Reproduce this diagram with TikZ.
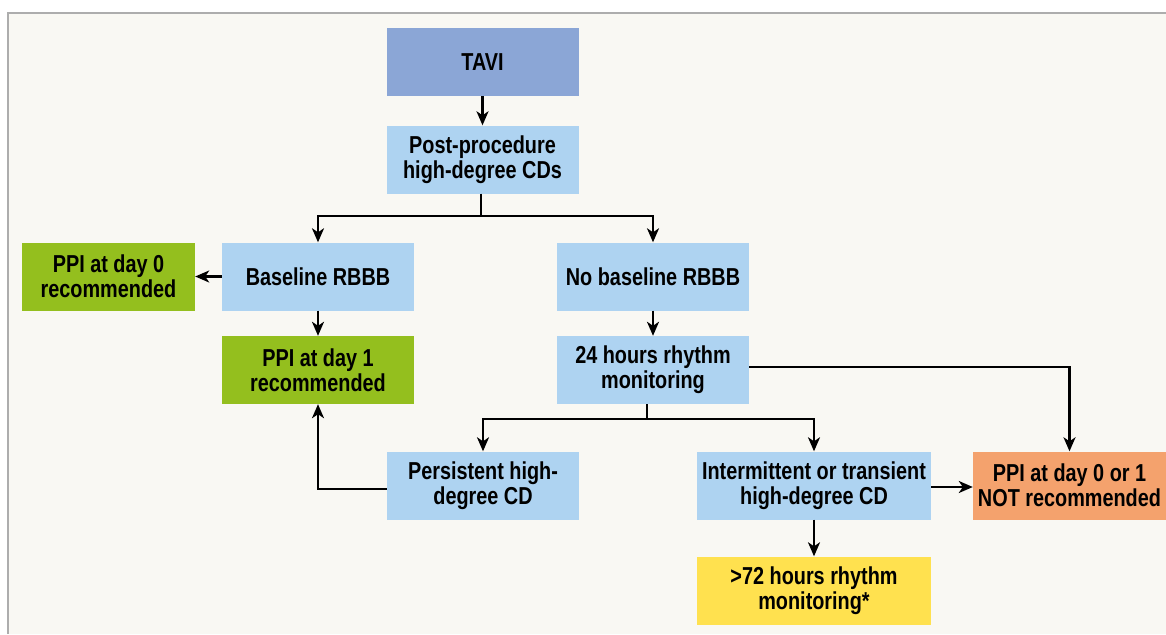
\documentclass[tikz,border=0pt]{standalone}
\usepackage{fontspec}
\setmainfont{Liberation Sans}[FakeStretch=0.81]
\usetikzlibrary{arrows.meta,calc}
\definecolor{bg}{HTML}{F9F8F3}
\definecolor{frame}{HTML}{ADADAD}
\definecolor{tavic}{HTML}{8BA6D6}
\definecolor{lblue}{HTML}{AED3F1}
\definecolor{lgreen}{HTML}{94BF1E}
\definecolor{lorange}{HTML}{F4A26D}
\definecolor{lyellow}{HTML}{FFE14F}
\begin{document}
\begin{tikzpicture}[x=1pt,y=-1pt,
  box/.style={minimum width=192pt, minimum height=68pt, inner sep=0pt, align=center,
    font=\fontsize{24.5}{25}\selectfont\bfseries, text=black},
  conn/.style={line width=2.2pt, black},
  arr/.style={conn, -{Stealth[length=14pt,width=12pt,inset=4pt]}}]
\useasboundingbox (0,0) rectangle (1166,634);
\fill[white] (0,0) rectangle (1166,634);
\fill[bg] (8,13) rectangle (1166,634);
\draw[frame, line width=1.5pt] (8,634) -- (8,13) -- (1166,13);

\node[box, fill=tavic] (tavi) at (482.5,62) {TAVI};
\node[box, fill=lblue] (post) at (482.5,159.5) {Post-procedure\\high-degree CDs};
\node[box, fill=lblue] (base) at (318,276.5) {Baseline RBBB};
\node[box, fill=lgreen, minimum width=173pt] (ppi0) at (108.5,276.5) {PPI at day 0\\recommended};
\node[box, fill=lblue] (nobase) at (653,276.5) {No baseline RBBB};
\node[box, fill=lgreen] (ppi1) at (318,370) {PPI at day 1\\recommended};
\node[box, fill=lblue] (h24) at (653,370) {24 hours rhythm\\monitoring};
\node[box, fill=lblue] (pers) at (483,485.5) {Persistent high-\\degree CD};
\node[box, fill=lblue, minimum width=234pt] (inter) at (814,485.5) {Intermittent or transient\\high-degree CD};
\node[box, fill=lorange, minimum width=193pt] (notrec) at (1069.5,485.5) {PPI at day 0 or 1\\NOT recommended};
\node[box, fill=lyellow, minimum width=234pt] (h72) at (814,590.5) {>72 hours rhythm\\monitoring*};

\coordinate (j1) at (481,216);
\coordinate (j2) at (647,419);

\draw[arr] (tavi) -- (post);
\draw[conn] (post.south -| j1) -- (j1);
\draw[arr] (j1) -| (base.north);
\draw[arr] (j1) -| (nobase.north);
\draw[arr] (base) -- (ppi0);
\draw[arr] (base) -- (ppi1);
\draw[arr] (nobase) -- (h24);
\draw[arr] ($(h24.east)+(0,-3)$) -| (notrec.north);
\draw[conn] (h24.south -| j2) -- (j2);
\draw[arr] (j2) -| (pers.north);
\draw[arr] (j2) -| (inter.north);
\draw[arr] ($(pers.west)+(0,3.5)$) -| (ppi1.south);
\draw[arr] ($(inter.east)+(0,1.5)$) -- ($(notrec.west)+(0,1.5)$);
\draw[arr] (inter) -- (h72);
\end{tikzpicture}
\end{document}
